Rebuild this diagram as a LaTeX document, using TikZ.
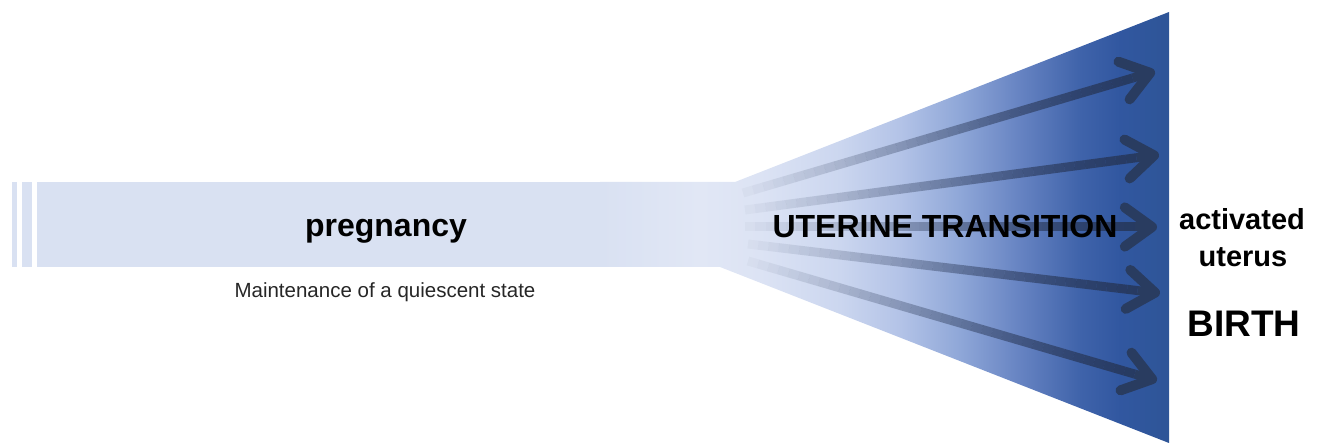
\documentclass[tikz,border=0pt]{standalone}
\usepackage{fontspec}
\setmainfont{Liberation Sans}
\usetikzlibrary{calc}
\definecolor{barc}{HTML}{D9E1F2}
\definecolor{f0}{HTML}{E1E7F5}
\definecolor{f1}{HTML}{DCE3F4}
\definecolor{f2}{HTML}{CBD6EF}
\definecolor{f3}{HTML}{B3C3E7}
\definecolor{f4}{HTML}{8FA7D8}
\definecolor{f5}{HTML}{6683C2}
\definecolor{f6}{HTML}{3F63AA}
\definecolor{f7}{HTML}{3157A0}
\definecolor{f8}{HTML}{2E5597}
\definecolor{arrc}{HTML}{25324F}
\definecolor{arrd}{HTML}{293C60}
\pgfdeclarehorizontalshading{funnelshade}{100bp}{color(0bp)=(barc); color(25bp)=(barc); color(33.8bp)=(f0); color(39.1bp)=(f1); color(46.1bp)=(f2); color(51.4bp)=(f3); color(56.6bp)=(f4); color(61.9bp)=(f5); color(67.2bp)=(f6); color(70.7bp)=(f7); color(75bp)=(f8); color(100bp)=(f8)}
\tikzset{
  shaft/.style={line width=9pt, draw=arrc, line cap=butt},
  shaftend/.style={line width=9pt, draw=arrd, line cap=butt},
  headarm/.style={line width=10pt, draw=arrd, line cap=round, line join=round},
  big/.style={font=\fontsize{32}{38}\selectfont\bfseries, anchor=base, inner sep=0pt},
  mid/.style={font=\fontsize{29}{34}\selectfont\bfseries, anchor=base, inner sep=0pt},
  small/.style={font=\fontsize{20.5}{24}\selectfont, anchor=base, inner sep=0pt, text=black!85},
}
\begin{document}
\begin{tikzpicture}[x=1pt,y=-1pt]
\useasboundingbox (0,0) rectangle (1325,443);
% bar
\fill[barc] (12,182) rectangle (17,267);
\fill[barc] (22,182) rectangle (32,267);
\fill[barc] (37,182) rectangle (601,267);
% funnel (joined to the bar)
\shade[shading=funnelshade] (600,182) -- (735,182) -- (1169,12) -- (1169,443) -- (720,267) -- (600,267) -- cycle;
% arrows
\coordinate (s1) at (743,193); \coordinate (e1) at (1153,72);
\coordinate (s2) at (745,210); \coordinate (e2) at (1157,155);
\coordinate (s3) at (745,227); \coordinate (e3) at (1155,227);
\coordinate (s4) at (748,244); \coordinate (e4) at (1158,293);
\coordinate (s5) at (748,261); \coordinate (e5) at (1155,380);
\foreach \k in {1,...,5}{
  \foreach \i in {0,...,37}{
    \pgfmathsetmacro\ta{\i/40}
    \pgfmathsetmacro\tb{(\i+1)/40}
    \pgfmathsetmacro\op{0.03+0.0195*\i}
    \draw[shaft, draw opacity=\op] ($(s\k)!\ta!(e\k)$) -- ($(s\k)!\tb!(e\k)$);
  }
  \draw[shaftend] ($(s\k)!0.95!(e\k)$) -- ($(e\k)!6pt!(s\k)$);
  \draw[headarm] ($(e\k)!36pt!33:(s\k)$) -- ($(e\k)!3pt!(s\k)$) -- ($(e\k)!36pt!-33:(s\k)$);
}
% texts
\node[big] (preg) at (386,237) {pregnancy};
\node[small] (maint) at (385,298) {Maintenance of a quiescent state};
\node[big] (ut) at (945,238) {UTERINE TRANSITION};
\node[mid] (act) at (1242,230) {activated};
\node[mid] (uter) at (1243,267) {uterus};
\node[font=\fontsize{37}{44}\selectfont\bfseries, anchor=base, inner sep=0pt] (birth) at (1244,337) {BIRTH};
\end{tikzpicture}
\end{document}
